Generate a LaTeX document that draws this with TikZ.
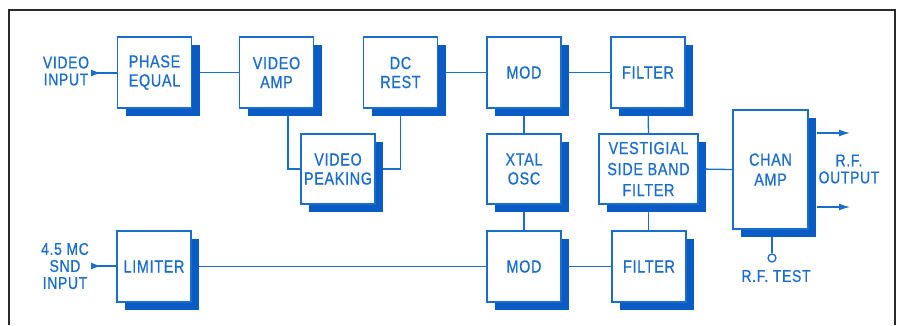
\documentclass[tikz,border=0pt]{standalone}
\usepackage{fontspec}
\setmainfont{Liberation Sans}[FakeStretch=0.82, LetterSpace=4, FakeBold=0.7]
\usetikzlibrary{shadows,backgrounds,arrows.meta}
\definecolor{bl}{HTML}{1B6DCC}
\definecolor{sh}{HTML}{0B5BC4}
\definecolor{frm}{HTML}{2A2A2A}
\tikzset{
  blk/.style={draw=bl, line width=1.3pt, fill=white, minimum width=74, minimum height=71,
    inner sep=0pt, align=center, text=bl, font=\fontsize{17.5}{19}\selectfont,
    general shadow={fill=sh, shadow xshift=8pt, shadow yshift=-8pt}},
  lbl/.style={text=bl, align=center, font=\fontsize{17}{17}\selectfont, inner sep=0pt},
  wire/.style={draw=bl, line width=1.3pt},
  tip/.style={-{Latex[length=11pt,width=7pt]}}
}
\begin{document}
\begin{tikzpicture}[x=1pt,y=-1pt]
\useasboundingbox (0,0) rectangle (902,325);
\draw[frm, line width=1.6pt] (9,325) -- (9,10) -- (895,10) -- (895,325);

\node[blk] (pe) at (154.5,72.5) {PHASE\\EQUAL};
\node[blk] (va) at (276.5,72.5) {VIDEO\\AMP};
\node[blk] (dc) at (400.5,72.5) {DC\\REST};
\node[blk, minimum height=70] (vp) at (338,169) {VIDEO\\PEAKING};
\node[blk] (lim) at (154,266.5) {LIMITER};
\node[blk] (m1) at (524,72.5) {MOD};
\node[blk] (f1) at (648,72.5) {FILTER};
\node[blk, minimum height=70] (xo) at (524,169) {XTAL\\OSC};
\node[blk, minimum width=99, minimum height=70, font=\fontsize{17.5}{21}\selectfont] (vsb) at (648.5,169) {VESTIGIAL\\SIDE BAND\\FILTER};
\node[blk] (m2) at (524,266.5) {MOD};
\node[blk] (f2) at (649,266.5) {FILTER};
\node[blk, minimum width=75, minimum height=119, font=\fontsize{17.5}{20}\selectfont] (ca) at (770.5,169.5) {CHAN\\AMP};

\node[draw=bl, line width=1.3pt, fill=white, circle, minimum size=8pt, inner sep=0pt] (tp) at (772,258) {};

\node[lbl] (vin) at (66,71) {VIDEO\\INPUT};
\node[lbl] (sin) at (65,266) {4.5 MC\\SND\\INPUT};
\node[lbl] (rfo) at (849,169) {R.F.\\OUTPUT};
\node[lbl] (rft) at (776,276) {R.F. TEST};

\coordinate (a1) at (91,73);
\coordinate (a2) at (91,266);
\coordinate (o1) at (850,133);
\coordinate (o2) at (850,207);

\begin{scope}[on background layer]
\draw[wire, {Latex[length=10pt,width=7pt,reversed]}-] (a1) -- (pe.west |- a1);
\draw[wire, {Latex[length=10pt,width=7pt,reversed]}-] (a2) -- (lim.west |- a2);
\draw[wire] (pe.east) -- (va.west);
\draw[wire] ([xshift=11.5pt]va.south) |- (vp.west);
\draw[wire] (vp.east) -| (dc.south);
\draw[wire] (dc.east) -- (m1.west);
\draw[wire] (m1.east) -- (f1.west);
\draw[wire] (m1.south) -- (xo.north);
\draw[wire] (xo.south) -- (m2.north);
\draw[wire] (f1.south) -- (vsb.north);
\draw[wire] (vsb.south) -- (vsb.south |- f2.north);
\draw[wire] (vsb.east) -- (ca.west);
\draw[wire] (lim.east) -- (m2.west);
\draw[wire] (m2.east) -- (f2.west);
\draw[wire] (ca.south -| tp) -- (tp.north);
\end{scope}
\draw[wire, tip] (ca.east |- o1) ++(8,0) -- (o1);
\draw[wire, tip] (ca.east |- o2) ++(8,0) -- (o2);
\end{tikzpicture}
\end{document}
